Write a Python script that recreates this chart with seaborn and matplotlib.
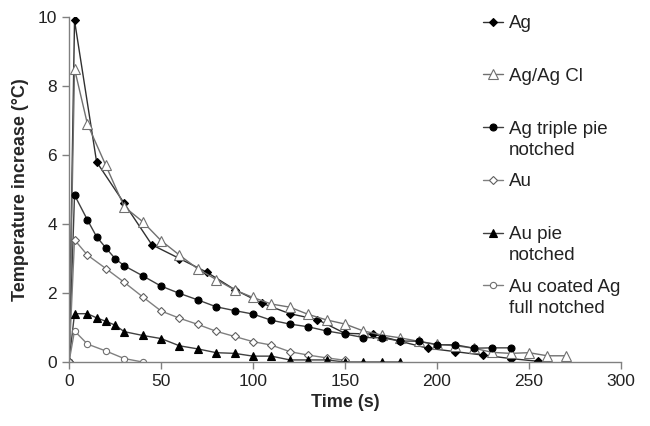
# temperature decay after heating, six electrode types

import matplotlib
matplotlib.use("Agg")
from matplotlib import pyplot as plt
import numpy as np
import pandas as pd
import seaborn as sns

# --- data ---
t_ag = [0, 3, 15, 30, 45, 60, 75, 90, 105, 120, 135, 150, 165, 180, 195, 210, 225, 240, 255]
ag = [0, 9.9, 5.8, 4.6, 3.4, 3.0, 2.6, 2.1, 1.7, 1.4, 1.23, 0.83, 0.81, 0.6, 0.4, 0.3, 0.2, 0.1, 0.02]

t_agcl = [0, 3, 10, 20, 30, 40, 50, 60, 70, 80, 90, 100, 110, 120, 130, 140,
          150, 160, 170, 180, 190, 200, 210, 220, 230, 240, 250, 260, 270]
agcl = [0, 8.5, 6.9, 5.7, 4.5, 4.07, 3.52, 3.1, 2.7, 2.39, 2.09, 1.87, 1.68, 1.59, 1.38, 1.22,
        1.1, 0.9, 0.78, 0.7, 0.6, 0.51, 0.47, 0.4, 0.28, 0.25, 0.27, 0.18, 0.18]

t_agtp = [0, 3, 10, 15, 20, 25, 30, 40, 50, 60, 70, 80, 90, 100, 110, 120, 130,
          140, 150, 160, 170, 180, 190, 200, 210, 220, 230, 240]
agtp = [0, 4.84, 4.12, 3.63, 3.31, 3.0, 2.79, 2.5, 2.2, 1.99, 1.8, 1.6, 1.49, 1.39, 1.21, 1.1, 1.02,
        0.9, 0.81, 0.71, 0.7, 0.61, 0.6, 0.5, 0.5, 0.4, 0.41, 0.41]

t_au = [0, 3, 10, 20, 30, 40, 50, 60, 70, 80, 90, 100, 110, 120, 130, 140, 150]
au = [0, 3.54, 3.1, 2.71, 2.31, 1.89, 1.48, 1.27, 1.09, 0.89, 0.74, 0.59, 0.49, 0.3, 0.2, 0.12, 0.05]

t_aupie = [0, 3, 10, 15, 20, 25, 30, 40, 50, 60, 70, 80, 90, 100, 110, 120, 130, 140,
           150, 160, 170, 180]
aupie = [0, 1.4, 1.4, 1.28, 1.18, 1.07, 0.88, 0.77, 0.68, 0.47, 0.38, 0.27, 0.25, 0.17, 0.17,
         0.06, 0.06, 0.06, 0, 0, 0, 0]

t_auag = [0, 3, 10, 20, 30, 40]
auag = [0, 0.9, 0.52, 0.32, 0.1, 0.0]

series = [
    ("Ag", t_ag, ag, dict(marker="D", ms=4, mfc="black", mec="black", color="#303030")),
    ("Ag/Ag Cl", t_agcl, agcl, dict(marker="^", ms=6.5, mfc="white", mec="#707070", color="#707070")),
    ("Ag triple pie", t_agtp, agtp, dict(marker="o", ms=5, mfc="black", mec="black", color="#404040")),
    ("Au", t_au, au, dict(marker="D", ms=4.5, mfc="white", mec="#606060", color="#808080")),
    ("Au pie", t_aupie, aupie, dict(marker="^", ms=5.5, mfc="black", mec="black", color="#404040")),
    ("Au coated Ag", t_auag, auag, dict(marker="o", ms=4.5, mfc="white", mec="#707070", color="#808080")),
]
second_lines = {"Ag triple pie": "notched", "Au pie": "notched", "Au coated Ag": "full notched"}

sns.set_style("ticks")
plt.rcParams["font.family"] = ["Liberation Sans", "DejaVu Sans"]

fig = plt.figure(figsize=(6.5, 4.26), dpi=100)
ax = fig.add_axes([69 / 650, 1 - 362 / 426, 552 / 650, 345 / 426])

for name, t, v, st in series:
    df = pd.DataFrame({"t": t, "v": v})
    sns.lineplot(data=df, x="t", y="v", ax=ax, label=name, lw=1, mew=0.8,
                 sort=False, estimator=None, **st)

ax.set_xlim(0, 300)
ax.set_ylim(0, 10)
ax.set_xticks(np.arange(0, 301, 50))
ax.set_yticks(np.arange(0, 11, 2))
ax.set_xlabel("Time (s)", fontsize=13, fontweight="bold", labelpad=4)
ax.set_ylabel("Temperature increase (\u00b0C)", fontsize=13, fontweight="bold", labelpad=6)
ax.tick_params(labelsize=12.5, colors="#808080", labelcolor="#222222", length=5, width=1)
for s in ["left", "bottom"]:
    ax.spines[s].set_color("#808080")
    ax.spines[s].set_linewidth(1)
sns.despine(ax=ax)

leg = ax.legend(loc="upper left", bbox_to_anchor=(483 / 650, 1 - 15 / 426),
                bbox_transform=fig.transFigure, frameon=False, fontsize=13.5,
                handlelength=1.05, handletextpad=0.33, labelspacing=1.9,
                borderpad=0, borderaxespad=0)
for txt in leg.get_texts():
    txt.set_color("#222222")

# second line of the two-line legend labels, placed under the first line
fig.canvas.draw()
inv = fig.transFigure.inverted()
for txt in leg.get_texts():
    extra = second_lines.get(txt.get_text())
    if extra:
        bb = txt.get_window_extent()
        x0, y0 = inv.transform((bb.x0, bb.y0))
        fig.text(x0, y0 - 4 / 426, extra, ha="left", va="top", fontsize=13.5, color="#222222")

fig.savefig("out.png", dpi=100)
